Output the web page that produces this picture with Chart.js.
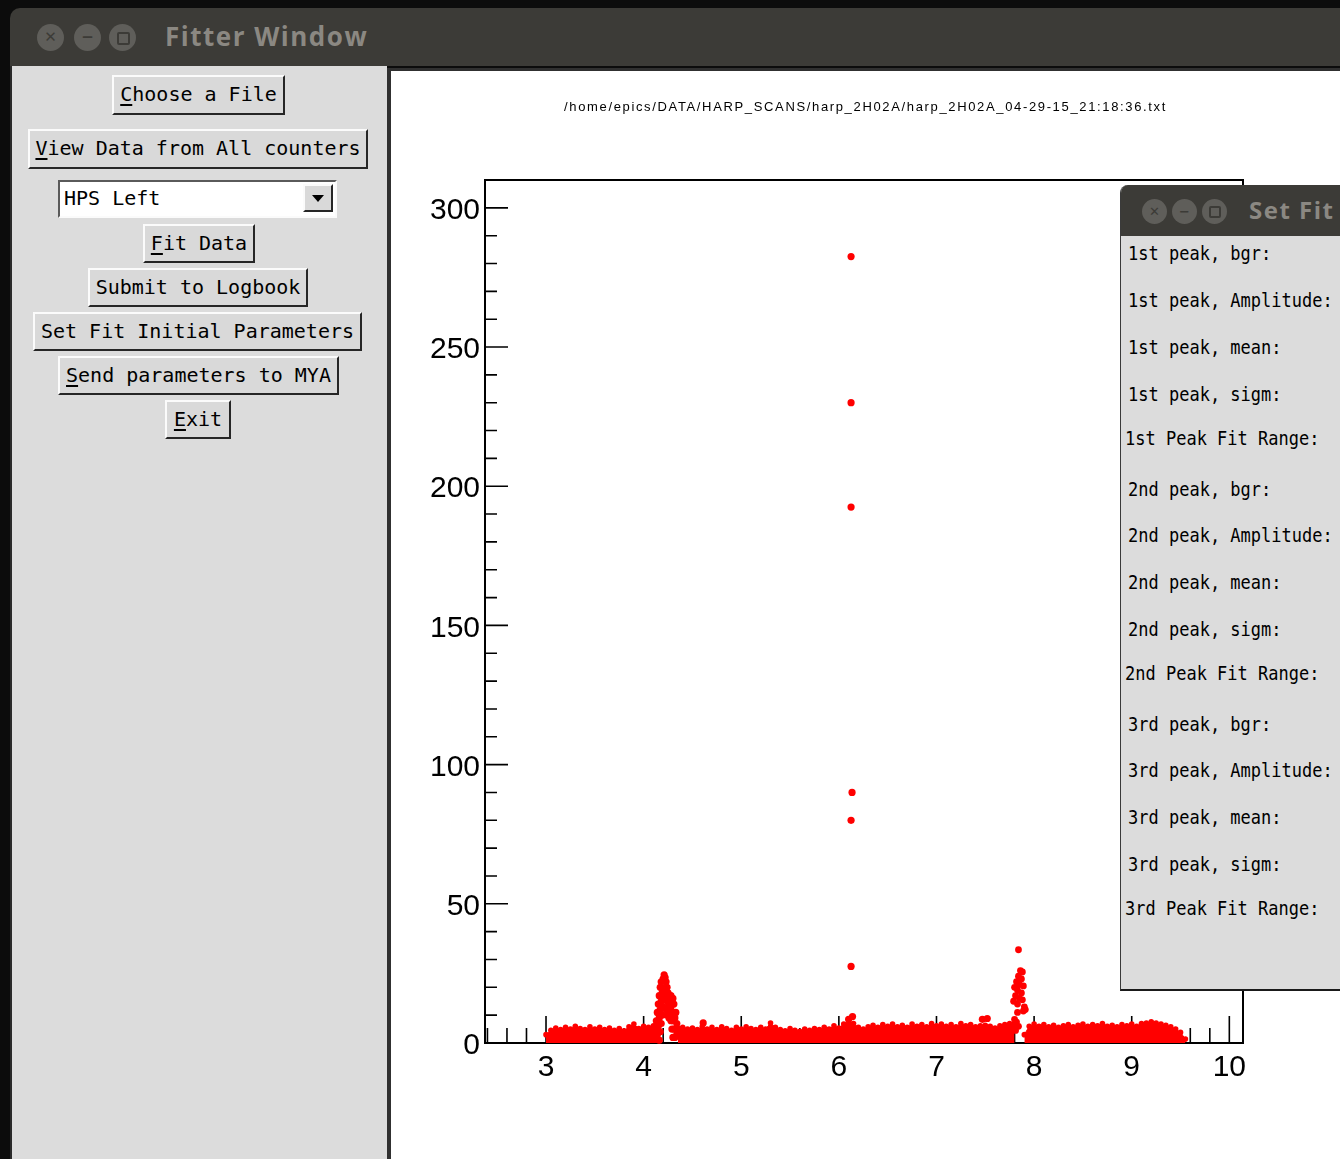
<!DOCTYPE html>
<html>
<head>
<meta charset="utf-8">
<title>Fitter Window</title>
<script src="https://cdn.jsdelivr.net/npm/chart.js@4.4.1/dist/chart.umd.min.js"></script>
<style>
  html, body { margin: 0; padding: 0; }
  body { width: 1340px; height: 1159px; background: #0c0c0c; position: relative; overflow: hidden;
         font-family: "DejaVu Sans Mono", monospace; color: #000; }
  .titlebar { position: absolute; background: #3c3b37; }
  .dot { position: absolute; border-radius: 50%; background: #5f5e5a; color: #3c3b37;
         font: bold 15px "DejaVu Sans", sans-serif; text-align: center; }
  .wtitle { position: absolute; font-family: "Open Sans", sans-serif; font-weight: bold; color: #8b8882;
            white-space: nowrap; line-height: 1; letter-spacing: 1.5px; }
  .panel { position: absolute; background: #dcdcdc; }
  .btn { position: absolute; box-sizing: border-box; border: 2px solid; border-color: #fbfbfb #262626 #262626 #fbfbfb;
         background: #d9d9d9; font-size: 20px; line-height: 35px; text-align: center; white-space: nowrap; }
  .btn u { text-underline-offset: 3px; }
  .combo { position: absolute; box-sizing: border-box; border: 2px solid; border-color: #5a5a5a #fbfbfb #fbfbfb #5a5a5a;
           background: #fff; font-size: 20px; line-height: 32px; padding-left: 4px; }
  .arrow { position: absolute; right: 2px; top: 2px; width: 30px; height: 28px; box-sizing: border-box;
           border: 2px solid; border-color: #fbfbfb #262626 #262626 #fbfbfb; background: #d9d9d9; }
  .arrow:after { content: ""; position: absolute; left: 7px; top: 9px; border-left: 6px solid transparent;
                 border-right: 6px solid transparent; border-top: 7px solid #000; }
  .plot { position: absolute; box-sizing: border-box; background: #fff; border-left: 4px solid #303030; border-top: 3px solid #303030; }
  #fileTitle { position: absolute; left: 391px; width: 949px; top: 99px; text-align: center;
               font: 13px "Liberation Sans", sans-serif; letter-spacing: 1.65px; white-space: nowrap; }
  #chart { position: absolute; left: 391px; top: 71px; }
  .fitwin { position: absolute; left: 1120px; top: 185px; width: 230px; height: 806px; box-sizing: border-box;
            background: #dcdcdc; border-left: 1px solid #3a3a3a; border-bottom: 2px solid #1a1a1a;
            border-top-left-radius: 8px; overflow: hidden; }
  .lbl { position: absolute; font-size: 17px; line-height: 22px; white-space: pre; transform: scaleY(1.15); transform-origin: left center; }
</style>
</head>
<body>

<!-- main window frame -->
<div class="titlebar" style="left:10px;top:8px;width:1330px;height:58px;border-top-left-radius:10px;"></div>
<div class="dot" style="left:37px;top:24px;width:27px;height:27px;line-height:27px;">&#x2715;</div>
<div class="dot" style="left:74px;top:24px;width:27px;height:27px;line-height:27px;">&#x2212;</div>
<div class="dot" style="left:109px;top:24px;width:27px;height:27px;"><div style="position:absolute;left:8px;top:8px;width:9px;height:9px;border:2px solid #3c3b37;border-radius:2px;"></div></div>
<div class="wtitle" style="left:165px;top:23px;font-size:26px;">Fitter Window</div>

<div class="panel" style="left:10px;top:66px;width:377px;height:1093px;border-left:2px solid #2a2a2a;box-sizing:border-box;"></div>

<div class="btn" style="left:112px;top:75px;width:173px;height:40px"><u>C</u>hoose a File</div>
<div class="btn" style="left:28px;top:129px;width:340px;height:40px"><u>V</u>iew Data from All counters</div>
<div class="combo" style="left:58px;top:180px;width:279px;height:38px">HPS Left<div class="arrow"></div></div>
<div class="btn" style="left:143px;top:224px;width:112px;height:39px"><u>F</u>it Data</div>
<div class="btn" style="left:88px;top:268px;width:220px;height:39px">Submit to Logbook</div>
<div class="btn" style="left:33px;top:312px;width:329px;height:39px">Set Fit Initial Parameters</div>
<div class="btn" style="left:58px;top:356px;width:281px;height:39px"><u>S</u>end parameters to MYA</div>
<div class="btn" style="left:165px;top:400px;width:66px;height:39px"><u>E</u>xit</div>

<!-- ROOT canvas area -->
<div class="plot" style="left:387px;top:68px;width:953px;height:1091px;"></div>
<canvas id="chart" width="949" height="1088"></canvas>
<div id="fileTitle">/home/epics/DATA/HARP_SCANS/harp_2H02A/harp_2H02A_04-29-15_21:18:36.txt</div>

<!-- Set Fit window overlapping the plot -->
<div class="fitwin">
  <div class="titlebar" style="left:0;top:0;width:230px;height:51px;"></div>
  <div class="dot" style="left:21px;top:14px;width:25px;height:25px;line-height:25px;font-size:13px;">&#x2715;</div>
  <div class="dot" style="left:51px;top:14px;width:25px;height:25px;line-height:25px;font-size:13px;">&#x2212;</div>
  <div class="dot" style="left:81px;top:14px;width:25px;height:25px;"><div style="position:absolute;left:7px;top:7px;width:8px;height:8px;border:2px solid #3c3b37;border-radius:2px;"></div></div>
  <div class="wtitle" style="left:128px;top:13px;font-size:24px;">Set Fit Initial Parameters</div>
</div>
<div id="fitLabels"></div>

<script>
/* ===============================
   Data
================================*/
// baseline counts, one value per 0.05 step starting at x = 3.00 (null = no band there)
const bandStart = 3.0;
const bandStep = 0.05;
const bandCounts = [
  3.0, 4.6, 5.4, 4.8, 5.6, 5.0, 6.0, 5.2, 4.8, 5.8,   // 3.00 - 3.45
  5.0, 5.6, 4.8, 5.4, 4.6, 5.2, 4.4, 5.8, 6.8, 5.2,   // 3.50 - 3.95
  6.0, 5.6, 6.2, 5.2, null, null, null, 4.8, 5.6, 5.0, // 4.00 - 4.45
  5.4, 4.8, 5.8, 5.0, 5.6, 4.8, 5.8, 5.2, 4.6, 5.6,   // 4.50 - 4.95
  5.0, 5.8, 5.2, 4.8, 5.6, 5.0, 7.2, 5.6, 4.8, 4.4,   // 5.00 - 5.45
  5.2, 4.6, 4.2, 5.0, 4.6, 5.2, 4.8, 5.6, 5.0, 6.2,   // 5.50 - 5.95
  5.4, 6.8, 8.0, 7.0, 5.6, 5.0, 5.8, 6.4, 5.6, 6.6,   // 6.00 - 6.45
  6.0, 6.8, 5.8, 6.4, 5.6, 6.8, 6.0, 6.6, 5.8, 7.0,   // 6.50 - 6.95
  6.2, 6.8, 6.0, 6.6, 5.8, 7.0, 6.2, 6.6, 5.8, 6.2,   // 7.00 - 7.45
  6.4, 6.0, 5.4, 6.2, 6.6, 7.0, 6.2, null, 3.0, 6.0,  // 7.50 - 7.95
  6.8, 6.0, 6.6, 5.8, 6.4, 5.6, 6.2, 6.6, 5.8, 6.4,   // 8.00 - 8.45
  6.8, 6.0, 6.6, 6.2, 7.0, 6.0, 6.4, 5.8, 6.6, 6.2,   // 8.50 - 8.95
  6.8, 6.0, 7.0, 7.2, 7.6, 7.2, 6.8, 6.4, 5.8, 5.0,   // 9.00 - 9.45
  3.8, 1.4                                             // 9.50 - 9.55
];

// first wire peak near x = 4.2
const peak1X = [4.12, 4.12, 4.13, 4.14, 4.14, 4.15, 4.15, 4.16, 4.16, 4.16,
                4.17, 4.17, 4.17, 4.18, 4.18, 4.18, 4.19, 4.19, 4.20, 4.20,
                4.21, 4.21, 4.22, 4.22, 4.23, 4.23, 4.23, 4.24, 4.24, 4.24,
                4.25, 4.25, 4.26, 4.26, 4.26, 4.27, 4.27, 4.28, 4.28, 4.28,
                4.29, 4.29, 4.29, 4.30, 4.30, 4.30, 4.31, 4.31, 4.31, 4.32,
                4.32, 4.33, 4.33, 4.34, 4.34, 4.35];
const peak1Y = [2, 5, 8, 3, 11, 6, 14, 1, 9, 17,
                4, 12, 20, 7, 15, 22, 10, 18, 13, 23,
                16, 24.5, 20, 23.5, 12, 18, 22, 10, 15, 20,
                12, 18, 9, 14, 17, 11, 16, 8, 13, 17,
                5, 10, 15, 2, 8, 16, 5, 11, 14, 2,
                9, 5, 11, 3, 7, 5];

// narrow spike at x = 6.12 and a few isolated points
const spikeX = [4.61, 6.125, 6.125, 6.125, 6.135, 6.125, 6.125, 6.10, 6.14, 7.47, 7.52];
const spikeY = [7.2, 282.5, 230, 192.5, 90, 80, 27.5, 8.5, 9.5, 8.5, 8.8];

// third wire peak near x = 7.85
const peak2X = [7.84, 7.86, 7.88, 7.84, 7.87, 7.82, 7.85, 7.89, 7.80, 7.83,
                7.87, 7.81, 7.85, 7.79, 7.88, 7.83, 7.90, 7.91, 7.89, 7.83,
                7.80, 7.82, 7.79, 7.84, 7.81];
const peak2Y = [33.5, 26, 25.5, 24, 23, 22, 21, 20.5, 20, 19,
                18, 17, 16, 15, 15.5, 14, 13, 12, 11.5, 11,
                8.5, 7.5, 6.5, 6, 4.5];

// axis labels
const xTickLabels = [3, 4, 5, 6, 7, 8, 9, 10];
const yTickLabels = [0, 50, 100, 150, 200, 250, 300];
const xRange = [2.375, 10.14];
const yRange = [0, 310];

// side window entries
const fitLabels = [
  "1st peak, bgr:", "1st peak, Amplitude:", "1st peak, mean:", "1st peak, sigm:", "1st Peak Fit Range:",
  "2nd peak, bgr:", "2nd peak, Amplitude:", "2nd peak, mean:", "2nd peak, sigm:", "2nd Peak Fit Range:",
  "3rd peak, bgr:", "3rd peak, Amplitude:", "3rd peak, mean:", "3rd peak, sigm:", "3rd Peak Fit Range:"
];
const fitLabelRows = [253, 300, 347, 394, 438, 489, 535, 582, 629, 673, 724, 770, 817, 864, 908];

/* ===============================
   Side window labels
================================*/
const holder = document.getElementById("fitLabels");
fitLabels.forEach((txt, i) => {
  const d = document.createElement("div");
  d.className = "lbl";
  d.textContent = txt;
  d.style.left = (txt.includes("Range") ? 1125 : 1128) + "px";
  d.style.top = (fitLabelRows[i] - 11) + "px";
  holder.appendChild(d);
});

/* ===============================
   Helpers
================================*/
function toPoints(xs, ys) {
  return xs.map((x, i) => ({ x: x, y: ys[i] }));
}

const bandPoints = bandCounts.map((c, i) => ({ x: +(bandStart + i * bandStep).toFixed(2), y: c }));

/* ===============================
   ROOT style frame + inside ticks
================================*/
const rootFrame = {
  id: "rootFrame",
  beforeDatasetsDraw(chart) {
    const { ctx, chartArea: a, scales: { x, y } } = chart;
    ctx.save();
    ctx.strokeStyle = "#000";
    ctx.lineWidth = 2;
    ctx.strokeRect(a.left, a.top, a.right - a.left, a.bottom - a.top);

    ctx.lineWidth = 1.6;
    ctx.beginPath();
    // y ticks every 10, long ones on labelled values
    for (let v = yRange[0]; v <= yRange[1]; v += 10) {
      const py = y.getPixelForValue(v);
      const len = v % 50 === 0 ? 23 : 12;
      ctx.moveTo(a.left, py);
      ctx.lineTo(a.left + len, py);
    }
    // x ticks every 0.2
    for (let i = 12; i <= 50; i++) {
      const px = x.getPixelForValue(i / 5);
      const len = i % 5 === 0 ? 27 : 15;
      ctx.moveTo(px, a.bottom);
      ctx.lineTo(px, a.bottom - len);
    }
    ctx.stroke();
    ctx.restore();
  }
};

/* ===============================
   Chart
================================*/
const red = "#ff0000";
const tickFont = { family: "Liberation Sans", size: 30 };

new Chart(document.getElementById("chart"), {
  data: {
    datasets: [
      {
        type: "scatter", data: toPoints(spikeX, spikeY),
        pointRadius: 3.6, pointBorderWidth: 0, backgroundColor: red, clip: 6
      },
      {
        type: "scatter", data: toPoints(peak1X, peak1Y),
        pointRadius: 3.6, pointBorderWidth: 0, backgroundColor: red, clip: 6
      },
      {
        type: "scatter", data: toPoints(peak2X, peak2Y),
        pointRadius: 3.4, pointBorderWidth: 0, backgroundColor: red, clip: 6
      },
      {
        type: "line", data: bandPoints,
        borderColor: red, borderWidth: 1, backgroundColor: red,
        fill: "origin", spanGaps: false, tension: 0,
        pointRadius: 2.8, pointBorderWidth: 0, pointBackgroundColor: red, clip: 6
      }
    ]
  },
  options: {
    responsive: false,
    animation: false,
    events: [],
    layout: { padding: { left: 0, right: 97, top: 109, bottom: 56 } },
    plugins: { legend: { display: false }, tooltip: { enabled: false }, title: { display: false } },
    scales: {
      x: {
        type: "linear", position: "bottom",
        min: xRange[0], max: xRange[1],
        grid: { display: false, drawTicks: false },
        border: { display: false },
        afterBuildTicks: s => { s.ticks = xTickLabels.map(v => ({ value: v })); },
        afterFit: s => { s.height = 60; },
        ticks: { font: tickFont, color: "#000", padding: 7, maxRotation: 0, autoSkip: false }
      },
      y: {
        type: "linear", position: "left",
        min: yRange[0], max: yRange[1],
        grid: { display: false, drawTicks: false },
        border: { display: false },
        afterBuildTicks: s => { s.ticks = yTickLabels.map(v => ({ value: v })); },
        afterFit: s => { s.width = 94; },
        ticks: { font: tickFont, color: "#000", padding: 5, labelOffset: 3 }
      }
    }
  },
  plugins: [rootFrame]
});
</script>
</body>
</html>
